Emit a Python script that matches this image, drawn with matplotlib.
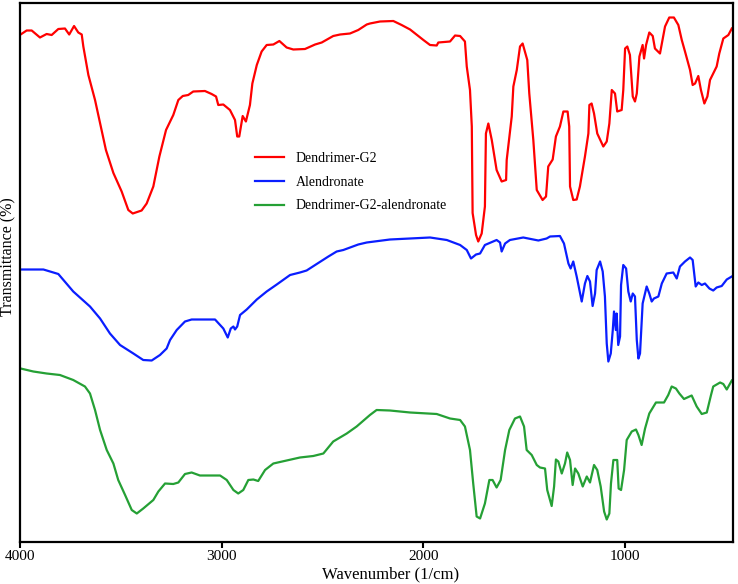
import matplotlib
matplotlib.use('Agg')
import matplotlib.pyplot as plt

# ── FTIR data (wavenumber 1/cm, transmittance, stacked) ──
wn_g2 = [3997, 3967, 3942, 3901, 3868, 3843, 3810, 3777, 3756, 3732, 3711, 3694,
         3686, 3661, 3628, 3603, 3574, 3537, 3496, 3463, 3441, 3397, 3372, 3339,
         3309, 3276, 3240, 3215, 3193, 3166, 3141, 3083, 3050, 3028, 3017, 2992,
         2959, 2934, 2923, 2913, 2896, 2880, 2860, 2848, 2826, 2802, 2777, 2744,
         2714, 2678, 2645, 2587, 2537, 2504, 2447, 2413, 2364, 2323, 2281, 2265,
         2215, 2149, 2108, 2066, 2000, 1967, 1934, 1926, 1868, 1843, 1818, 1794,
         1785, 1769, 1760, 1756, 1739, 1728, 1711, 1695, 1690, 1678, 1661, 1637,
         1612, 1590, 1587, 1562, 1554, 1537, 1521, 1508, 1485, 1475, 1455, 1438,
         1409, 1392, 1381, 1359, 1343, 1323, 1306, 1285, 1277, 1273, 1257, 1240,
         1224, 1199, 1182, 1177, 1166, 1154, 1138, 1108, 1091, 1078, 1066, 1050,
         1039, 1017, 1009, 1000, 989, 976, 962, 951, 942, 929, 913, 906, 896, 880,
         863, 852, 827, 802, 781, 758, 736, 719, 703, 678, 665, 653, 637, 624,
         607, 592, 579, 546, 533, 513, 488, 471]
t_g2 = [101.5, 102.3, 102.3, 100.9, 101.6, 101.4, 102.6, 102.7, 101.5, 103.2, 101.9, 101.5,
        99.1, 93.4, 88.4, 83.8, 78.4, 73.8, 70.1, 66.4, 65.7, 66.3, 67.7, 71.1,
        77.1, 82.4, 85.4, 88.4, 89.2, 89.4, 90.1, 90.2, 89.6, 89.1, 87.4, 87.5,
        86.4, 84.4, 81.1, 81.1, 85.2, 84.1, 87.4, 91.7, 95.4, 98.1, 99.4, 99.5,
        100.2, 98.9, 98.5, 98.6, 99.5, 99.9, 101.2, 101.5, 101.7, 102.4, 103.5, 103.7,
        104.1, 104.2, 103.4, 102.5, 100.4, 99.4, 99.3, 99.9, 100.1, 101.3, 101.2, 100.1,
        95.1, 90.4, 83.1, 65.8, 61.4, 60.1, 61.7, 67.1, 81.7, 83.7, 80.4, 74.4,
        72.1, 72.4, 76.4, 85.1, 91.1, 94.4, 99.1, 99.7, 96.4, 89.7, 80.4, 70.4,
        68.4, 69.1, 75.1, 76.5, 81.1, 83.1, 86.1, 86.1, 83.1, 71.1, 68.4, 68.5,
        71.1, 77.1, 81.7, 87.4, 87.7, 85.7, 81.7, 79.1, 80.1, 83.7, 90.4, 89.7,
        86.1, 86.4, 90.4, 98.7, 99.1, 97.4, 89.1, 88.1, 89.7, 97.1, 99.4, 96.7, 99.4, 101.9,
        101.2, 98.7, 97.7, 103.1, 104.9, 104.9, 103.4, 100.4, 98.1, 94.4, 91.4, 91.7, 93.2, 90.4,
        87.7, 89.1, 92.4, 95.1, 97.7, 100.7, 101.4, 102.7]

wn_aln = [3997, 3884, 3851, 3810, 3736, 3653, 3603, 3554, 3504, 3438, 3389, 3347,
          3306, 3273, 3256, 3223, 3182, 3149, 3033, 2992, 2970, 2955, 2942, 2934,
          2923, 2909, 2876, 2826, 2777, 2727, 2661, 2612, 2579, 2529, 2471, 2430,
          2397, 2323, 2281, 2166, 1967, 1884, 1818, 1785, 1764, 1739, 1719, 1695,
          1637, 1620, 1612, 1595, 1571, 1505, 1430, 1389, 1372, 1323, 1303, 1281,
          1270, 1257, 1240, 1215, 1199, 1187, 1174, 1161, 1149, 1141, 1124, 1111,
          1100, 1091, 1083, 1071, 1061, 1055, 1046, 1042, 1034, 1025, 1020, 1009,
          995, 984, 972, 962, 951, 942, 934, 926, 913, 893, 880, 868, 857, 835,
          818, 794, 761, 744, 728, 703, 678, 665, 650, 637, 620, 604, 582, 563,
          546, 521, 496, 471]
t_aln = [54.5, 54.5, 54.1, 53.6, 50.1, 47.1, 44.7, 41.7, 39.4, 37.7, 36.4, 36.3,
         37.4, 38.7, 40.4, 42.4, 44.1, 44.5, 44.5, 42.7, 40.9, 42.7, 43.1, 42.5,
         43.1, 45.4, 46.5, 48.5, 50.1, 51.5, 53.4, 53.9, 54.3, 55.6, 57.1, 58.1,
         58.4, 59.5, 59.9, 60.5, 60.9, 60.4, 59.4, 58.4, 56.7, 57.5, 57.7, 59.4,
         60.4, 59.9, 58.1, 59.7, 60.4, 60.9, 60.3, 60.7, 61.1, 61.2, 59.7, 55.7,
         54.7, 56.1, 53.1, 48.1, 51.7, 53.2, 52.1, 47.2, 49.7, 54.4, 56.1, 54.1,
         49.1, 39.7, 36.1, 37.7, 42.4, 46.1, 42.4, 45.7, 39.4, 41.1, 51.4, 55.4,
         54.7, 50.1, 48.1, 49.7, 49.1, 40.4, 36.7, 37.7, 47.7, 51.1, 49.7, 48.1, 48.7, 49.1,
         51.7, 53.7, 53.9, 52.7, 55.1, 56.1, 56.9, 56.4, 51.1, 51.9, 51.4, 51.7, 50.7, 50.3,
         50.9, 51.2, 52.5, 53.1]

wn_g2aln = [3997, 3934, 3868, 3802, 3736, 3678, 3653, 3628, 3603, 3570, 3537, 3513,
            3479, 3446, 3421, 3389, 3339, 3314, 3281, 3240, 3215, 3182, 3149, 3108,
            3008, 2975, 2942, 2918, 2893, 2868, 2843, 2819, 2785, 2744, 2678, 2612,
            2546, 2496, 2447, 2380, 2331, 2265, 2232, 2166, 2066, 1934, 1868, 1818,
            1794, 1769, 1753, 1736, 1719, 1695, 1673, 1657, 1637, 1617, 1595, 1574,
            1546, 1521, 1501, 1488, 1463, 1438, 1422, 1397, 1386, 1364, 1352, 1343,
            1331, 1314, 1298, 1287, 1273, 1260, 1248, 1232, 1210, 1190, 1174, 1154,
            1138, 1121, 1104, 1091, 1078, 1070, 1058, 1039, 1032, 1020, 1005, 992,
            967, 946, 934, 918, 901, 880, 847, 807, 786, 769, 748, 731, 708, 670,
            645, 620, 595, 574, 563, 529, 513, 496, 471]
t_g2aln = [34.7, 34.1, 33.7, 33.4, 32.4, 31.1, 29.7, 26.4, 22.4, 18.4, 15.7, 12.4,
           9.4, 6.4, 5.7, 6.7, 8.4, 10.1, 11.7, 11.6, 11.9, 13.6, 13.9, 13.3,
           13.3, 12.4, 10.4, 9.7, 10.4, 12.4, 12.5, 12.2, 14.4, 15.7, 16.3, 16.9,
           17.2, 17.7, 20.1, 21.7, 23.1, 25.4, 26.4, 26.3, 25.9, 25.6, 24.7, 24.4,
           23.1, 18.4, 11.7, 5.1, 4.7, 7.7, 12.4, 12.4, 10.9, 12.4, 18.4, 22.4,
           24.7, 25.1, 23.1, 18.4, 17.4, 15.4, 14.9, 14.7, 10.4, 7.2, 11.1, 16.5,
           16.1, 13.7, 15.7, 17.9, 16.4, 11.4, 14.7, 13.7, 11.1, 13.1, 11.9, 15.4,
           14.4, 11.1, 6.1, 4.5, 5.7, 11.7, 16.4, 16.4, 10.7, 10.4, 14.4, 20.4,
           22.1, 22.5, 21.4, 19.4, 22.7, 25.7, 27.9, 27.9, 29.4, 31.1, 30.7, 29.7, 28.6, 29.3,
           27.1, 25.6, 25.9, 29.4, 31.1, 31.9, 31.6, 30.5, 32.3]

series = [
    ('Dendrimer-G2', wn_g2, t_g2, '#ff0000'),
    ('Alendronate', wn_aln, t_aln, '#0a1eff'),
    ('Dendrimer-G2-alendronate', wn_g2aln, t_g2aln, '#25a035'),
]

plt.rcParams['font.family'] = ['Liberation Serif', 'DejaVu Serif']

fig = plt.figure(figsize=(7.38, 5.84), dpi=100)
ax = fig.add_axes([20 / 738, 42 / 584, 713 / 738, 539 / 584])

for name, wn, t, col in series:
    ax.plot(wn, t, color=col, lw=1.6, label=name, solid_joinstyle='round')

ax.set_xlim(4000, 465)
ax.set_ylim(0, 107.8)
ax.set_xticks([4000, 3000, 2000, 1000])
ax.set_yticks([])
ax.tick_params(axis='x', direction='out', length=4, width=1.5, labelsize=11, pad=2)
for sp in ax.spines.values():
    sp.set_linewidth(1.6)

ax.set_xlabel('Wavenumber (1/cm)', fontsize=12)
ax.xaxis.set_label_coords(0.52, -0.046)
ax.set_ylabel('Transmittance (%)', fontsize=11.5)
ax.yaxis.set_label_coords(-0.005, 0.53)

ax.legend(loc='upper left', bbox_to_anchor=(0.33, 0.724), frameon=False,
          fontsize=10, handlelength=2.1, handletextpad=0.8, labelspacing=0.78,
          borderpad=0, borderaxespad=0)

fig.savefig('out.png', dpi=100)
